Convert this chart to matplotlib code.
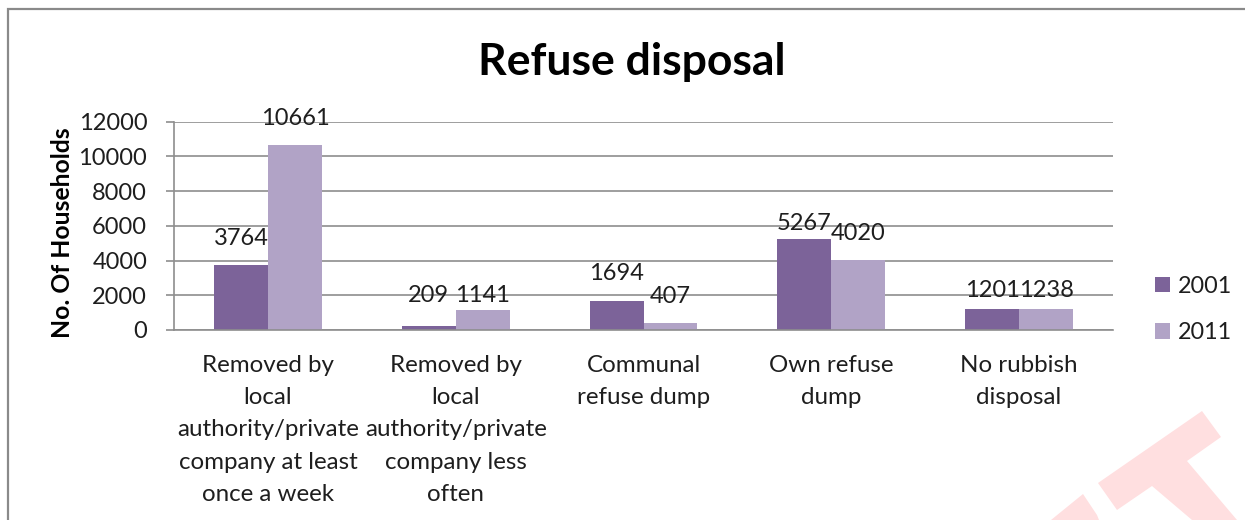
import matplotlib
matplotlib.use("Agg")
import matplotlib.pyplot as plt
import numpy as np
from matplotlib.patches import Rectangle, Polygon

# ---- data ----
categories = [
    "Removed by\nlocal\nauthority/private\ncompany at least\nonce a week",
    "Removed by\nlocal\nauthority/private\ncompany less\noften",
    "Communal\nrefuse dump",
    "Own refuse\ndump",
    "No rubbish\ndisposal",
]
series_names = ["2001", "2011"]
values_2001 = [3764, 209, 1694, 5267, 1201]
values_2011 = [10661, 1141, 407, 4020, 1238]
y_ticks = [0, 2000, 4000, 6000, 8000, 10000, 12000]

# ---- style ----
W, H = 1245, 520
C2001 = "#7c6399"
C2011 = "#b1a3c6"
GRID = "#8e8e8e"
TXT = "#1e1e1e"
FONT = "Lato"
FS = 17.0
FS_CAT = 17.4

plt.rcParams["font.family"] = [FONT, "DejaVu Sans"]

fig = plt.figure(figsize=(W / 100, H / 100), dpi=100)


def px(x, y):
    """pixel position (from top-left) -> figure fraction"""
    return x / W, 1 - y / H


# outer chart frame
fig.patches.append(Rectangle(px(8, 560), (W + 40) / W, (560 - 9) / H,
                             transform=fig.transFigure, fill=False,
                             edgecolor="#8a8a8a", lw=1.6))

ax_left, ax_right, ax_top, ax_bot = 174, 1113, 121.7, 330
ax = fig.add_axes([ax_left / W, 1 - ax_bot / H,
                   (ax_right - ax_left) / W, (ax_bot - ax_top) / H])

x = np.arange(len(categories))
bw = 0.2875
b1 = ax.bar(x - bw / 2, values_2001, bw, color=C2001, label=series_names[0], zorder=2)
b2 = ax.bar(x + bw / 2, values_2011, bw, color=C2011, label=series_names[1], zorder=2)

ax.set_xlim(-0.5, len(categories) - 0.5)
ax.set_ylim(0, 12000)
ax.set_yticks(y_ticks)
ax.set_yticklabels([str(t) for t in y_ticks])
ax.set_xticks(x)
ax.set_xticklabels(categories, linespacing=1.66)

ax.yaxis.grid(True, color=GRID, lw=1.2, zorder=0)
ax.set_axisbelow(True)
for s in ["top", "right"]:
    ax.spines[s].set_visible(False)
for s in ["left", "bottom"]:
    ax.spines[s].set_color(GRID)
    ax.spines[s].set_linewidth(1.2)

ax.tick_params(axis="y", length=5.8, width=1.2, color=GRID, pad=13.5,
               labelsize=FS, labelcolor=TXT)
ax.tick_params(axis="x", length=0, pad=18, labelsize=FS_CAT, labelcolor=TXT)

# value labels above each bar (offsets in px, nudged where labels crowd)
off_2001 = [26, 31, 27, 15, 19]
off_2011 = [26, 15, 26, 27, 18]
for bars, vals, offs in [(b1, values_2001, off_2001), (b2, values_2011, off_2011)]:
    for rect, v, o in zip(bars, vals, offs):
        ax.annotate(str(v), (rect.get_x() + rect.get_width() / 2, v),
                    xytext=(0, o * 0.72), textcoords="offset points",
                    ha="center", va="center", fontsize=FS, color=TXT, zorder=3)

# title and axis title
fig.text(*px(631.5, 75), "Refuse disposal", ha="center", va="baseline",
         fontsize=32, fontweight="bold", color="#000000")
fig.text(*px(62, 233), "No. Of Households", ha="center", va="center",
         rotation=90, fontsize=17.8, fontweight="bold", color="#000000")

# legend
leg = ax.legend(loc="center left", bbox_to_anchor=px(1155, 309.5),
                bbox_transform=fig.transFigure, frameon=False,
                fontsize=16.8, handlelength=0.66, handleheight=0.66,
                handletextpad=0.32, labelspacing=1.1,
                borderpad=0, borderaxespad=0)
for t in leg.get_texts():
    t.set_color(TXT)

# red watermark fragment in the lower right corner
WM = "#ffdfe0"
shapes = [
    [(1098, 483), (1202, 411), (1221, 437), (1187, 461), (1237, 520),
     (1192, 520), (1152, 486), (1117, 510)],
    [(1051, 520), (1083, 494), (1097, 515), (1099, 520)],
]
for pts in shapes:
    fig.patches.append(Polygon([px(a, b) for a, b in pts], closed=True,
                               transform=fig.transFigure, facecolor=WM,
                               edgecolor="none", zorder=0))

fig.savefig("out.png", dpi=100)
